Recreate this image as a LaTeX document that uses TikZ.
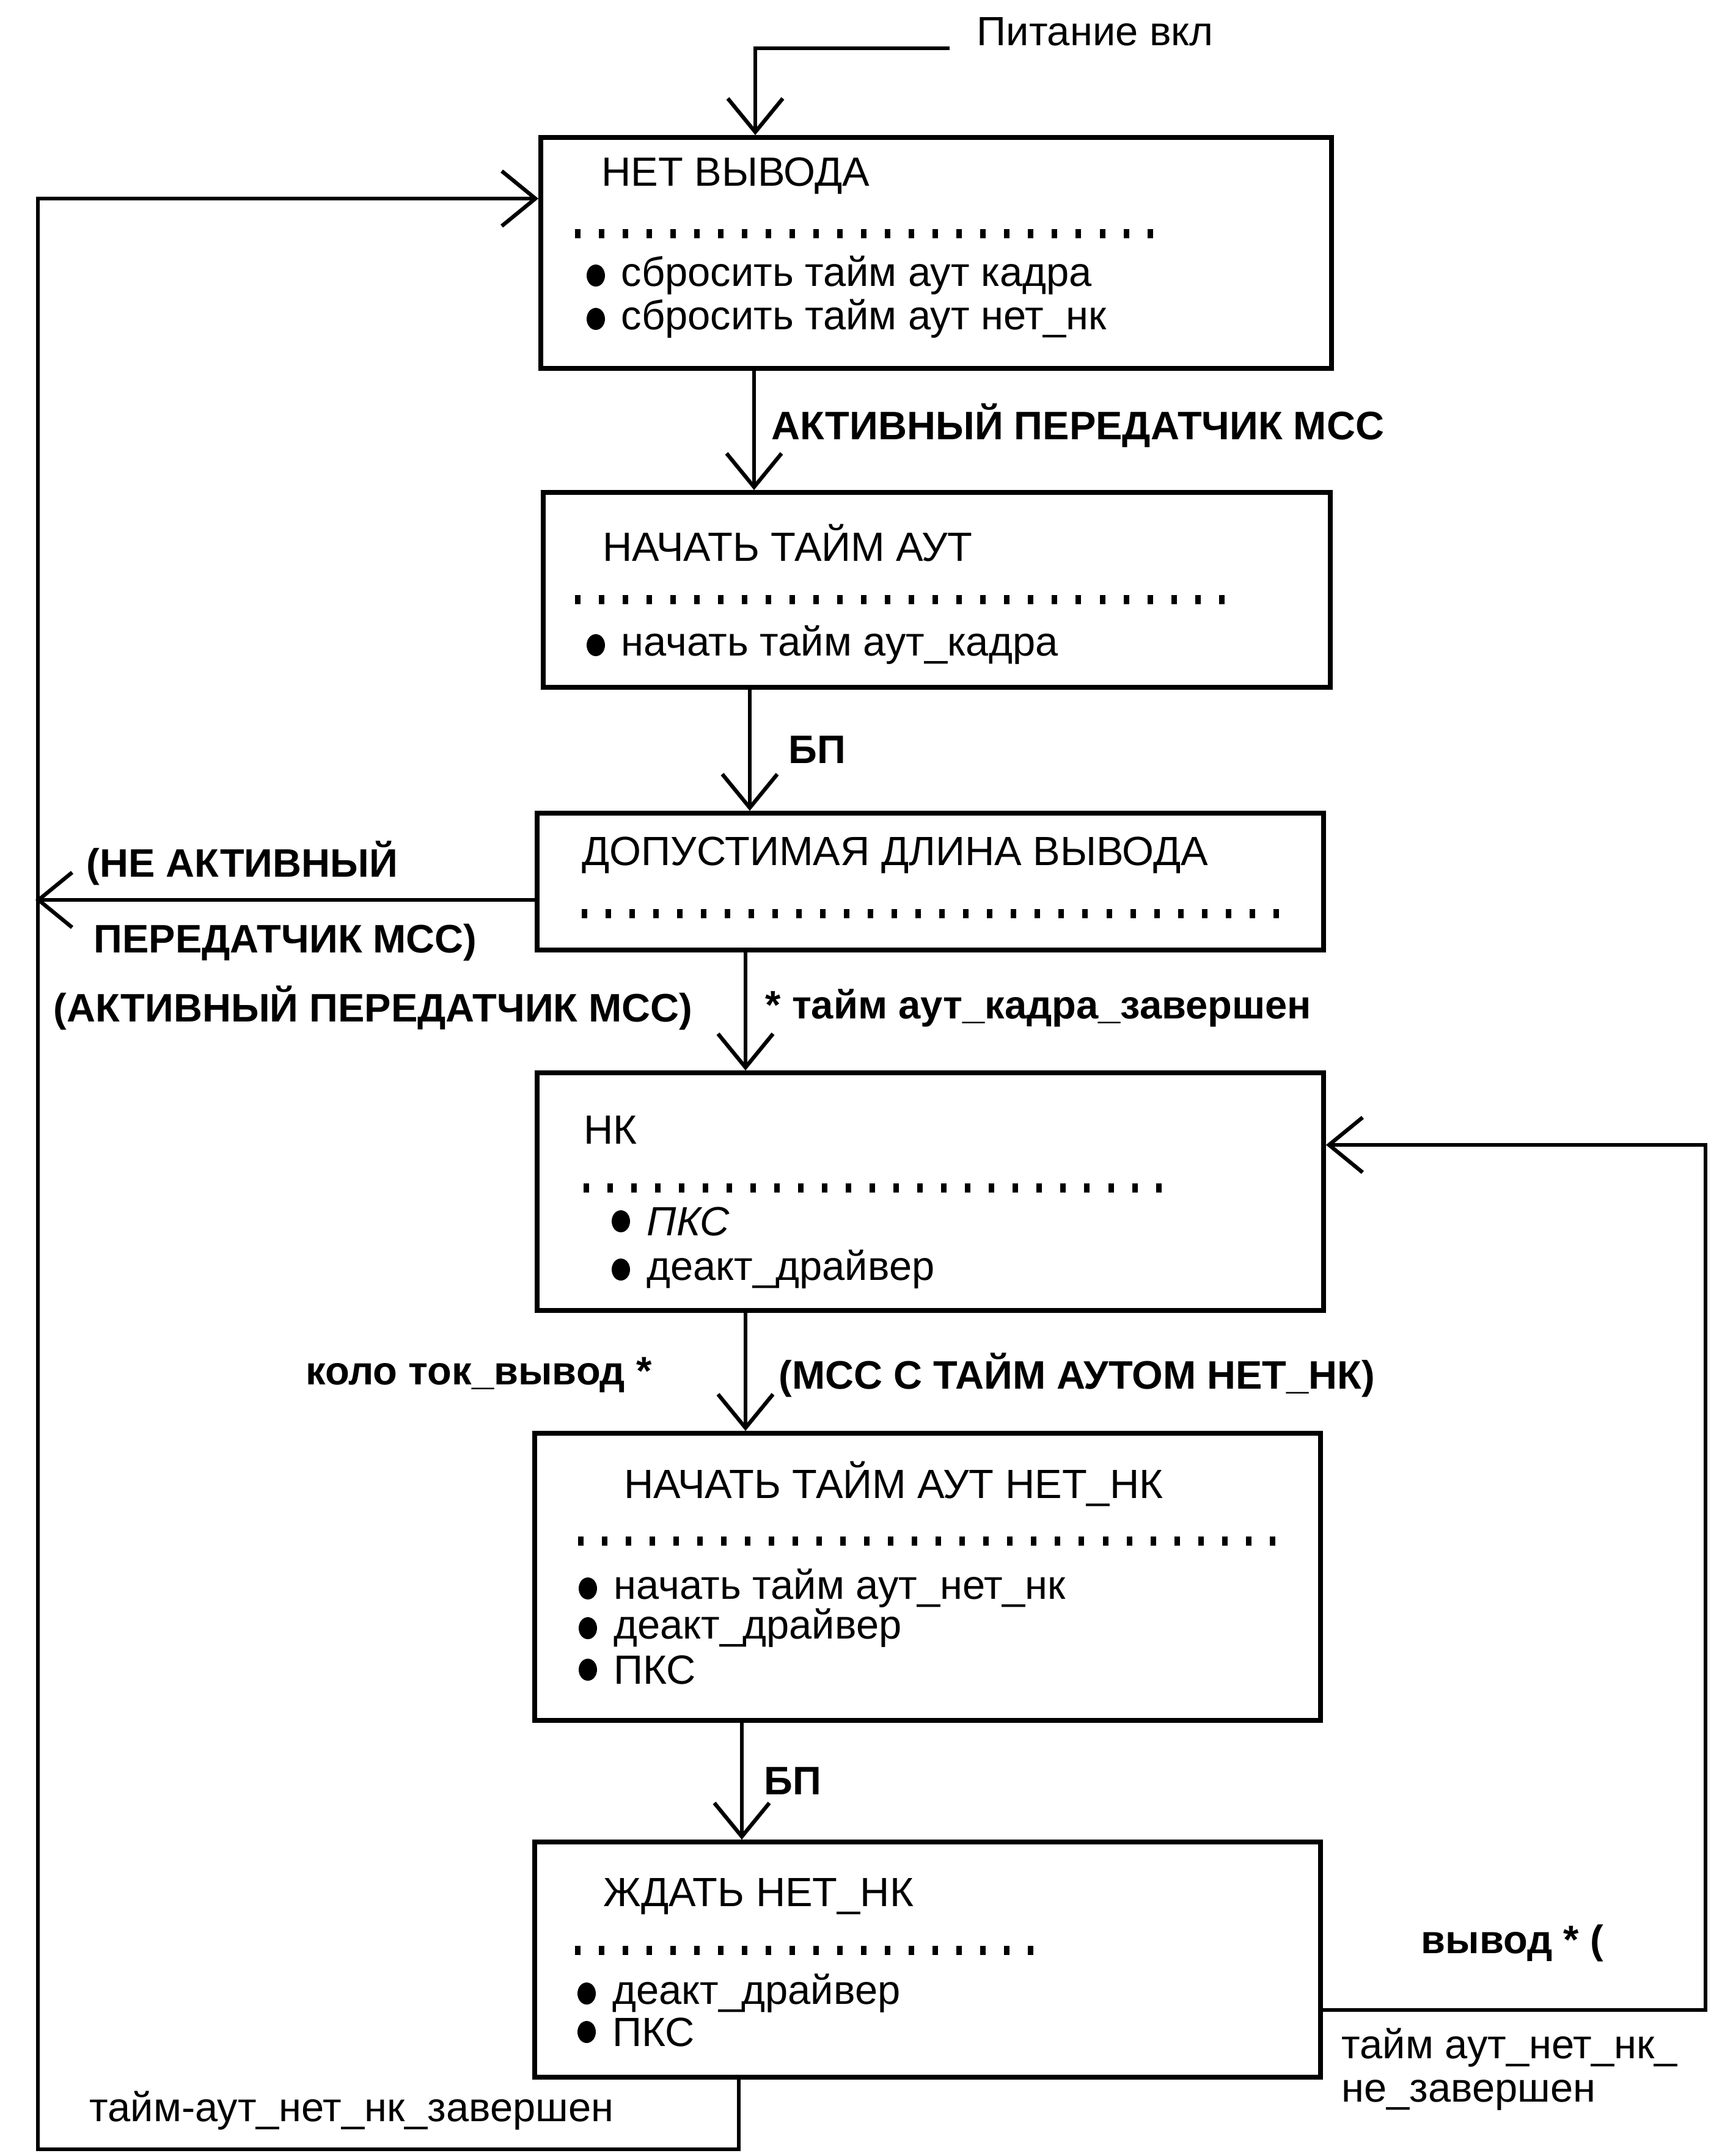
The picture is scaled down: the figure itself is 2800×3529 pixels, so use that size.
\documentclass[tikz,border=0pt]{standalone}
\usepackage{fontspec}
\setmainfont{Liberation Sans}
\usetikzlibrary{arrows.meta,fit}
\begin{document}
\begin{tikzpicture}[x=0.01cm,y=-0.01cm,
  box/.style={draw, line width=2.2pt, inner sep=0pt},
  ln/.style={line width=1.5pt},
  arr/.style={ln, -{Straight Barb[length=0.55cm,width=0.9cm,line width=1.8pt]}},
  ttl/.style={anchor=west, inner sep=0pt, font=\fontsize{19}{22}\selectfont},
  itm/.style={anchor=west, inner sep=0pt, font=\fontsize{19}{22}\selectfont},
  lbl/.style={anchor=west, inner sep=0pt, font=\bfseries\fontsize{18.5}{22}\selectfont},
  dotrow/.style={line width=0.15cm, dash pattern=on 0.09cm off 0.30cm},
  bul/.style={x radius=0.15cm, y radius=0.18cm}]
\useasboundingbox (0,0) rectangle (2800,3529);

% boxes
\node[box, fit={(885,225)(2179,603)}] (b1) {};
\node[box, fit={(889,806)(2177,1125)}] (b2) {};
\node[box, fit={(879,1331)(2166,1555)}] (b3) {};
\node[box, fit={(879,1756)(2166,2145)}] (b4) {};
\node[box, fit={(875,2346)(2161,2816)}] (b5) {};
\node[box, fit={(875,3015)(2161,3400)}] (b6) {};

% box 1
\node[ttl] (t1) at (984,288) {НЕТ ВЫВОДА};
\draw[dotrow] (941,382) -- (1911,382);
\fill (975,451) ellipse [bul];
\node[itm] (t1a) at (1016,451) {сбросить тайм аут кадра};
\fill (975,522) ellipse [bul];
\node[itm] (t1b) at (1016,522) {сбросить тайм аут нет\_нк};

% box 2
\node[ttl] (t2) at (986,889) {НАЧАТЬ ТАЙМ АУТ};
\draw[dotrow] (941,981) -- (2023,981);
\fill (975,1056) ellipse [bul];
\node[itm] (t2a) at (1016,1056) {начать тайм аут\_кадра};

% box 3
\node[ttl] (t3) at (952,1400) {ДОПУСТИМАЯ ДЛИНА ВЫВОДА};
\draw[dotrow] (952,1495) -- (2107,1495);

% box 4
\node[ttl] (t4) at (955,1849) {НК};
\draw[dotrow] (955,1944) -- (1920,1944);
\fill (1016,1999) ellipse [bul];
\node[itm] (t4a) at (1058,1999) {\itshape ПКС};
\fill (1016,2078) ellipse [bul];
\node[itm] (t4b) at (1058,2078) {деакт\_драйвер};

% box 5
\node[ttl] (t5) at (1021,2429) {НАЧАТЬ ТАЙМ АУТ НЕТ\_НК};
\draw[dotrow] (946,2522) -- (2107,2522);
\fill (962,2600) ellipse [bul];
\node[itm] (t5a) at (1004,2600) {начать тайм аут\_нет\_нк};
\fill (962,2665) ellipse [bul];
\node[itm] (t5b) at (1004,2665) {деакт\_драйвер};
\fill (962,2733) ellipse [bul];
\node[itm] (t5c) at (1004,2733) {ПКС};

% box 6
\node[ttl] (t6) at (987,3104) {ЖДАТЬ НЕТ\_НК};
\draw[dotrow] (941,3192) -- (1718,3192);
\fill (960,3263) ellipse [bul];
\node[itm] (t6a) at (1002,3263) {деакт\_драйвер};
\fill (960,3326) ellipse [bul];
\node[itm] (t6b) at (1002,3326) {ПКС};

% power on
\coordinate (pw) at (1554,79);
\coordinate (pwc) at (1236,79);
\node[itm] (pwl) at (1598,52) {Питание вкл};
\draw[arr] (pw) -- (pwc) -- (pwc |- b1.north);

% vertical transitions
\coordinate (c12) at (1234,0);
\draw[arr] (c12 |- b1.south) -- (c12 |- b2.north);
\node[lbl] (l12) at (1262,697) {АКТИВНЫЙ ПЕРЕДАТЧИК МСС};

\coordinate (c23) at (1227,0);
\draw[arr] (c23 |- b2.south) -- (c23 |- b3.north);
\node[lbl] (l23) at (1290,1227) {БП};

\coordinate (c34) at (1220,0);
\draw[arr] (c34 |- b3.south) -- (c34 |- b4.north);
\node[lbl] (l34a) at (87,1650) {(АКТИВНЫЙ ПЕРЕДАТЧИК МСС)};
\node[lbl] (l34b) at (1252,1650) {* тайм аут\_кадра\_завершен};

\coordinate (c45) at (1220,0);
\draw[arr] (c45 |- b4.south) -- (c45 |- b5.north);
\node[lbl] (l45a) at (500,2251) {коло ток\_вывод *};
\node[lbl] (l45b) at (1274,2251) {(МСС С ТАЙМ АУТОМ НЕТ\_НК)};

\coordinate (c56) at (1214,0);
\draw[arr] (c56 |- b5.south) -- (c56 |- b6.north);
\node[lbl] (l56) at (1250,2915) {БП};

% not active -> left
\coordinate (na) at (58,1473);
\draw[arr] (na -| b3.west) -- (na);
\node[lbl] (lna1) at (141,1413) {(НЕ АКТИВНЫЙ};
\node[lbl] (lna2) at (153,1543) {ПЕРЕДАТЧИК МСС)};

% left loop back to box 1
\coordinate (lb) at (1209,3518);
\coordinate (ll) at (62,3518);
\coordinate (lt) at (62,325);
\draw[arr] (lb |- b6.south) -- (lb) -- (ll) -- (lt) -- (lt -| b1.west);
\node[itm] (lloop) at (146,3455) {тайм-аут\_нет\_нк\_завершен};

% right loop back to НК
\coordinate (rb) at (2791,3290);
\coordinate (rt) at (2791,1874);
\draw[arr] (rb -| b6.east) -- (rb) -- (rt) -- (rt -| b4.east);
\node[lbl] (lr1) at (2325,3181) {вывод * (};
\node[itm] (lr2) at (2195,3352) {тайм аут\_нет\_нк\_};
\node[itm] (lr3) at (2195,3429) {не\_завершен};
\end{tikzpicture}
\end{document}
